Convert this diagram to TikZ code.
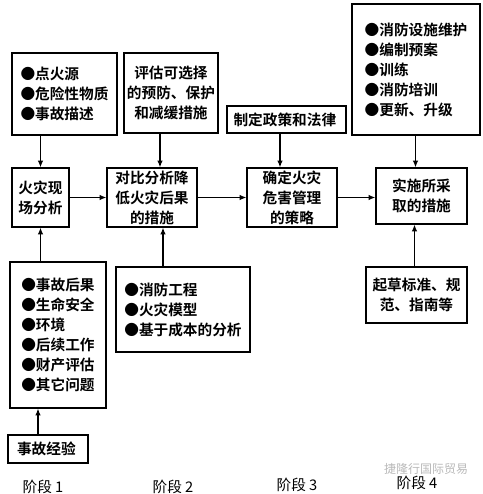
\documentclass[tikz,border=0pt]{standalone}
\usepackage{fontspec}
\setmainfont{Noto Sans CJK SC}[BoldFont={Noto Sans CJK SC Bold}]
\usetikzlibrary{arrows.meta,calc}

\begin{document}
\begin{tikzpicture}[
        x=0.75pt, y=-0.75pt,
        listBox/.style={
            draw,
            line width=0.9pt,
            align=left,
            inner sep=0pt,
            font=\bfseries\fontsize{11}{15}\selectfont
        },
        stepBox/.style={
            draw,
            line width=0.9pt,
            align=center,
            inner sep=0pt,
            font=\bfseries\fontsize{11}{15}\selectfont
        },
        stageLabel/.style={
            font=\fontsize{11}{13}\selectfont
        },
        flowArrow/.style={
            -{Latex[length=5pt,width=4pt]},
            line width=0.8pt
        }
    ]

        \useasboundingbox (0,0) rectangle (483,494);

        % Stage 1
        \node[
            listBox,
            minimum width=78.8pt,
            minimum height=61.5pt
        ] (fireSource) at (64.5,94) {
            ●点火源\\
            ●危险性物质\\
            ●事故描述
        };

        \node[
            stepBox,
            minimum width=42.8pt,
            minimum height=44.3pt
        ] (siteAnalysis) at (40.5,197.5) {
            火灾现\\
            场分析
        };

        \node[
            listBox,
            minimum width=72pt,
            minimum height=109.5pt
        ] (consequences) at (58,335) {
            ●事故后果\\
            ●生命安全\\
            ●环境\\
            ●后续工作\\
            ●财产评估\\
            ●其它问题
        };

        \node[
            stepBox,
            minimum width=60pt,
            minimum height=21pt
        ] (experience) at (48,449) {
            事故经验
        };

        % Stage 2
        \node[
            stepBox,
            minimum width=70.5pt,
            minimum height=60pt
        ] (options) at (171,93) {
            评估可选择\\
            的预防、保护\\
            和减缓措施
        };

        \node[
            stepBox,
            minimum width=67.5pt,
            minimum height=44.3pt
        ] (compare) at (152,197.5) {
            对比分析降\\
            低火灾后果\\
            的措施
        };

        \node[
            listBox,
            minimum width=100.5pt,
            minimum height=63.8pt
        ] (tools) at (183,309.5) {
            ●消防工程\\
            ●火灾模型\\
            ●基于成本的分析
        };

        % Stage 3
        \node[
            stepBox,
            minimum width=89.3pt,
            minimum height=20.3pt
        ] (policy) at (286.5,119.5) {
            制定政策和法律
        };

        \node[
            stepBox,
            minimum width=67.5pt,
            minimum height=44.3pt
        ] (strategy) at (292,197.5) {
            确定火灾\\
            危害管理\\
            的策略
        };

        % Stage 4
        \node[
            listBox,
            minimum width=96pt,
            minimum height=98.3pt
        ] (upkeep) at (416,69.5) {
            ●消防设施维护\\
            ●编制预案\\
            ●训练\\
            ●消防培训\\
            ●更新、升级
        };

        \node[
            stepBox,
            minimum width=68.3pt,
            minimum height=42pt
        ] (implement) at (421.5,196) {
            实施所采\\
            取的措施
        };

        \node[
            stepBox,
            minimum width=75.8pt,
            minimum height=42pt
        ] (standards) at (416.5,295) {
            起草标准、规\\
            范、指南等
        };

        % Stage labels
        \node[stageLabel] (stageOne) at (43,487) {阶段 1};
        \node[stageLabel] (stageTwo) at (173,487) {阶段 2};
        \node[stageLabel] (stageThree) at (297,485) {阶段 3};
        \node[stageLabel] (stageFour) at (417,483) {阶段 4};

        \node[
            font=\fontsize{9}{10}\selectfont,
            text=gray!55
        ] (watermark) at (426,469) {捷隆行国际贸易};

        % Connectors
        \coordinate (compareTop) at ($(compare.north)+(8,0)$);
        \coordinate (compareBottom) at ($(compare.south)+(11,0)$);
        \coordinate (strategyTop) at ($(strategy.north)+(-12,0)$);
        \coordinate (implementTop) at ($(implement.north)+(-6,0)$);
        \coordinate (implementBottom) at ($(implement.south)+(-7,0)$);
        \coordinate (consequencesBottom) at ($(consequences.south)+(-20,0)$);

        \draw[flowArrow] (fireSource.south -| siteAnalysis.north) -- (siteAnalysis.north);
        \draw[flowArrow] (consequences.north -| siteAnalysis.south) -- (siteAnalysis.south);
        \draw[flowArrow] (experience.north -| consequencesBottom) -- (consequencesBottom);
        \draw[flowArrow] (options.south -| compareTop) -- (compareTop);
        \draw[flowArrow] (tools.north -| compareBottom) -- (compareBottom);
        \draw[flowArrow] (policy.south -| strategyTop) -- (strategyTop);
        \draw[flowArrow] (upkeep.south -| implementTop) -- (implementTop);
        \draw[flowArrow] (standards.north -| implementBottom) -- (implementBottom);

        \draw[flowArrow] (siteAnalysis.east) -- (compare.west);
        \draw[flowArrow] (compare.east) -- (strategy.west);
        \draw[flowArrow] (strategy.east) -- (strategy.east -| implement.west);

    \end{tikzpicture}
\end{document}
